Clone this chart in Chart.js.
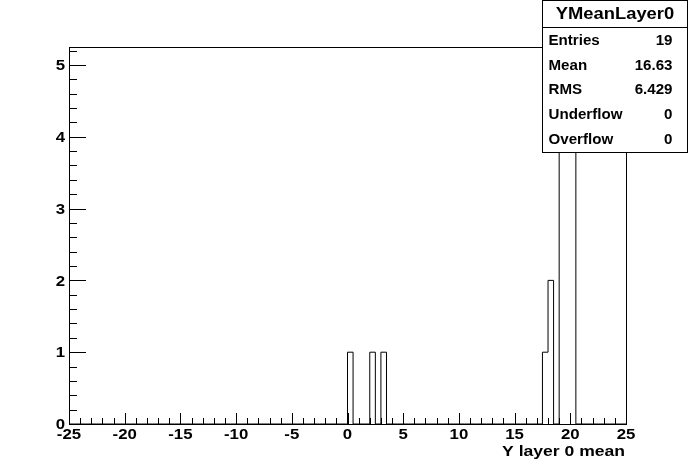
<!DOCTYPE html>
<html>
<head>
<meta charset="utf-8">
<script src="https://cdn.jsdelivr.net/npm/chart.js@4/dist/chart.umd.min.js"></script>
<style>
  html, body { margin: 0; padding: 0; background: #fff; }
  canvas { display: block; }
</style>
</head>
<body>
<canvas id="hist" width="696" height="472"></canvas>
<script>
// histogram binning
const xMin = -25;
const xMax = 25;
const binWidth = 0.5;
const yMax = 5.25;

// filled bins (lower edge) and their contents, all others are 0
const binLowEdges = [0, 2, 3, 17.5, 18, 19, 19.5, 20];
const binCounts   = [1, 1, 1, 1,    2,  5,  4,    4];

const xTickLabels = [-25, -20, -15, -10, -5, 0, 5, 10, 15, 20, 25];
const yTickLabels = [0, 1, 2, 3, 4, 5];

const statTitle  = 'YMeanLayer0';
const statNames  = ['Entries', 'Mean', 'RMS', 'Underflow', 'Overflow'];
const statValues = ['19', '16.63', '6.429', '0', '0'];
const xTitle = 'Y layer 0 mean';

// build step points from bin edges
const nBins = Math.round((xMax - xMin) / binWidth);
const contents = new Array(nBins).fill(0);
binLowEdges.forEach((lo, i) => {
  contents[Math.round((lo - xMin) / binWidth)] = binCounts[i];
});
const points = contents.map((v, i) => ({ x: xMin + i * binWidth, y: v }));
points.push({ x: xMax, y: 0 });

const FONT = '"Liberation Sans", Arial, Helvetica, sans-serif';

// ROOT fonts come out wider than Liberation, so stretch a bit
function wideText(c, text, x, y, sx) {
  c.save();
  c.translate(x, y);
  c.scale(sx, 1);
  c.fillText(text, 0, 0);
  c.restore();
}

// ROOT-like frame, ticks, labels and stats box
const rootFrame = {
  id: 'rootFrame',
  afterDraw(chart) {
    const c = chart.ctx;
    const a = chart.chartArea;
    const xs = chart.scales.x;
    const ys = chart.scales.y;
    c.save();
    c.strokeStyle = '#000';
    c.lineWidth = 1;
    c.fillStyle = '#000';

    // frame
    c.strokeRect(Math.round(a.left) + 0.5, Math.round(a.top) + 0.5,
                 Math.round(a.right - a.left), Math.round(a.bottom - a.top));

    // x ticks
    c.beginPath();
    for (let v = xMin; v <= xMax; v += 1) {
      const px = Math.round(xs.getPixelForValue(v)) + 0.5;
      const len = (v % 5 === 0) ? 11 : 6;
      c.moveTo(px, a.bottom);
      c.lineTo(px, a.bottom - len);
    }
    // y ticks (minor every 0.2)
    for (let k = 0; k * 0.2 <= yMax + 1e-9; k++) {
      const v = k * 0.2;
      const py = Math.round(ys.getPixelForValue(v)) + 0.5;
      const len = (k % 5 === 0) ? 17 : 8;
      c.moveTo(a.left, py);
      c.lineTo(a.left + len, py);
    }
    c.stroke();

    // tick labels
    c.font = 'bold 15px ' + FONT;
    c.textAlign = 'center';
    c.textBaseline = 'middle';
    xTickLabels.forEach(v => {
      wideText(c, String(v), xs.getPixelForValue(v), a.bottom + 11, 1.12);
    });
    c.textAlign = 'right';
    yTickLabels.forEach(v => {
      wideText(c, String(v), a.left - 4, ys.getPixelForValue(v) + 1, 1.12);
    });

    // axis title
    c.font = 'bold 15px ' + FONT;
    c.textAlign = 'right';
    wideText(c, xTitle, a.right - 1, a.bottom + 28, 1.17);

    // stats box
    const bx = 542.5, by = 0.5, bw = 145, bh = 152;
    c.fillStyle = '#fff';
    c.fillRect(bx, by, bw, bh);
    c.strokeRect(bx, by, bw, bh);
    c.beginPath();
    c.moveTo(bx, 27.5);
    c.lineTo(bx + bw, 27.5);
    c.stroke();
    c.fillStyle = '#000';
    c.font = 'bold 17px ' + FONT;
    c.textAlign = 'center';
    wideText(c, statTitle, bx + bw / 2, 14, 1.08);
    c.font = 'bold 14px ' + FONT;
    statNames.forEach((name, i) => {
      const ty = 41 + i * 24.8;
      c.textAlign = 'left';
      wideText(c, name, bx + 6, ty, 1.08);
      c.textAlign = 'right';
      wideText(c, statValues[i], bx + bw - 15, ty, 1.08);
    });
    c.restore();
  }
};

new Chart(document.getElementById('hist'), {
  type: 'line',
  data: {
    datasets: [{
      data: points,
      stepped: 'before',
      borderColor: '#000',
      borderWidth: 1,
      pointRadius: 0,
      fill: false
    }]
  },
  options: {
    responsive: false,
    animation: false,
    layout: { padding: { left: 69, right: 70, top: 47, bottom: 48 } },
    plugins: { legend: { display: false }, tooltip: { enabled: false } },
    scales: {
      x: { type: 'linear', min: xMin, max: xMax, display: false },
      y: { type: 'linear', min: 0, max: yMax, display: false }
    }
  },
  plugins: [rootFrame]
});
</script>
</body>
</html>
